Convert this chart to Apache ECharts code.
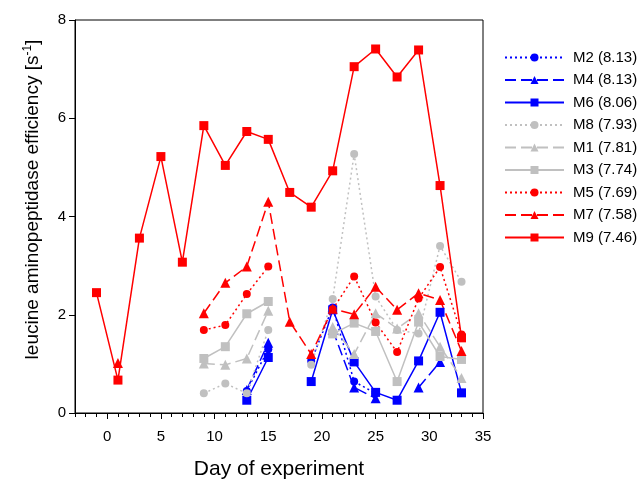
<!DOCTYPE html>
<html>
<head>
<meta charset="utf-8">
<script src="https://cdn.jsdelivr.net/npm/echarts@6/dist/echarts.min.js"></script>
<style>
  html, body { margin: 0; padding: 0; background: #fff; }
  #myChart { width: 638px; height: 480px; }
</style>
</head>
<body>
<div id="myChart"></div>
<script>
// sampling days
var days = [-1, 1, 3, 5, 7, 9, 11, 13, 15, 17, 19, 21, 23, 25, 27, 29, 31, 33];

// values per mesocosm, null = no sample
var m2 = [null, null, null, null, null, null, null, 0.45, 1.30, null, 1.06, 2.15, 0.64, 0.40, null, null, null, null];
var m4 = [null, null, null, null, null, null, null, 0.47, 1.43, null, null, 1.69, 0.52, 0.30, null, 0.52, 1.04, null];
var m6 = [null, null, null, null, null, null, null, 0.26, 1.13, null, 0.64, 2.10, 1.04, 0.42, 0.26, 1.06, 2.05, 0.41];
var m8 = [null, null, null, null, null, 0.40, 0.60, 0.40, 1.69, null, 0.98, 2.32, 5.27, 2.37, 1.69, 1.62, 3.40, 2.67];
var m1 = [null, null, null, null, null, 1.01, 0.98, 1.11, 2.08, null, null, 1.75, 1.20, 2.03, 1.72, 2.03, 1.35, 0.71];
var m3 = [null, null, null, null, null, 1.11, 1.35, 2.02, 2.27, null, null, 1.61, 1.83, 1.66, 0.64, 1.85, 1.15, 1.09];
var m5 = [null, null, null, null, null, 1.69, 1.79, 2.42, 2.98, null, null, 2.11, 2.78, 1.84, 1.24, 2.33, 2.97, 1.60];
var m7 = [null, 1.02, null, null, null, 2.03, 2.65, 2.98, 4.30, 1.86, 1.20, 2.12, 2.01, 2.57, 2.10, 2.44, 2.30, 1.26];
var m9 = [2.45, 0.67, 3.56, 5.22, 3.07, 5.85, 5.04, 5.73, 5.57, 4.49, 4.19, 4.93, 7.05, 7.41, 6.84, 7.39, 4.63, 1.53];

var names = ['M2 (8.13)', 'M4 (8.13)', 'M6 (8.06)', 'M8 (7.93)', 'M1 (7.81)', 'M3 (7.74)', 'M5 (7.69)', 'M7 (7.58)', 'M9 (7.46)'];
var majorTicks = [0, 5, 10, 15, 20, 25, 30, 35];

var font = 'Liberation Sans, Arial, sans-serif';

function pairs(vals) {
    return vals.map(function (v, i) { return [days[i], v]; });
}

function mk(name, vals, color, dash, symbol, size) {
    return {
        name: name,
        type: 'line',
        data: pairs(vals),
        connectNulls: false,
        color: color,
        symbol: symbol,
        symbolSize: size,
        lineStyle: { color: color, width: 1.5, type: dash },
        itemStyle: { color: color },
        emphasis: { disabled: true },
        animation: false
    };
}

var blue = '#0000ff', grey = '#c0c0c0', red = '#ff0000';
var dotted = [2, 3], dashed = [11, 5];

var myChart = echarts.init(document.getElementById('myChart'));
myChart.setOption({
    animation: false,
    textStyle: { fontFamily: font },
    grid: {
        left: 75, right: 155, top: 20, bottom: 67,
        outerBoundsMode: 'none',
        containLabel: false,
        show: true, borderColor: '#000', borderWidth: 1
    },
    legend: {
        orient: 'vertical',
        left: 499, top: 45,
        itemWidth: 59, itemHeight: 10, itemGap: 7.5,
        textStyle: { fontSize: 15, color: '#000', fontFamily: font, padding: [0, 0, 0, 4] },
        data: names
    },
    xAxis: [{
        type: 'value',
        min: -3, max: 35, interval: 1,
        name: 'Day of experiment',
        nameLocation: 'middle',
        nameGap: 46,
        nameTextStyle: { fontSize: 21, color: '#000', fontFamily: font },
        axisLine: { onZero: false, lineStyle: { color: '#000' } },
        axisTick: { length: 4, lineStyle: { color: '#000' } },
        axisLabel: {
            interval: 0, fontSize: 15, color: '#000', margin: 16,
            formatter: function (v) { return v % 5 === 0 ? String(v) : ''; }
        },
        splitLine: { show: false }
    }, {
        type: 'value',
        position: 'bottom',
        min: -3, max: 35,
        axisLine: { show: false, onZero: false },
        axisTick: { customValues: majorTicks, length: 6, lineStyle: { color: '#000' } },
        axisLabel: { show: false },
        splitLine: { show: false }
    }],
    yAxis: {
        type: 'value',
        min: 0, max: 8, interval: 2,
        name: 'leucine aminopeptidase efficiency [s{sup|-1}]',
        nameLocation: 'middle',
        nameGap: 32,
        nameRotate: 90,
        nameTextStyle: {
            fontSize: 19, color: '#000', fontFamily: font,
            padding: [0, 0, 0, 34],
            rich: { sup: { fontSize: 12, color: '#000', verticalAlign: 'top', padding: [0, 0, 9, 0] } }
        },
        axisLine: { show: true, onZero: false, lineStyle: { color: '#000' } },
        axisTick: { show: true, length: 6, lineStyle: { color: '#000' } },
        axisLabel: { fontSize: 15, color: '#000', margin: 9 },
        splitLine: { show: false }
    },
    series: [
        mk(names[0], m2, blue, dotted, 'circle', 8),
        mk(names[1], m4, blue, dashed, 'triangle', 10),
        mk(names[2], m6, blue, 'solid', 'rect', 9),
        mk(names[3], m8, grey, dotted, 'circle', 8),
        mk(names[4], m1, grey, dashed, 'triangle', 10),
        mk(names[5], m3, grey, 'solid', 'rect', 9),
        mk(names[6], m5, red, dotted, 'circle', 8),
        mk(names[7], m7, red, dashed, 'triangle', 10),
        mk(names[8], m9, red, 'solid', 'rect', 9)
    ]
});
</script>
</body>
</html>
